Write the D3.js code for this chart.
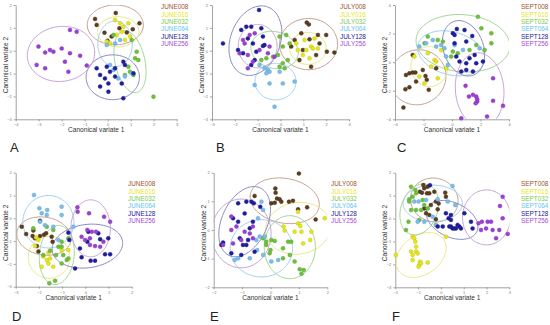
<!DOCTYPE html>
<html><head><meta charset="utf-8">
<script src="https://cdn.jsdelivr.net/npm/d3@7"></script>
<style>body{margin:0;background:#fff}svg{display:block}</style>
</head><body><svg id="c" width="550" height="325"></svg>
<script>
// ---------- DATA ----------
const groups = ["008","016","032","064","128","256"];
const months = ["JUNE","JULY","SEPT","JUNE","JULY","SEPT"];
const letters = ["A","B","C","D","E","F"];
const xTicks = [[-4,-3,-2,-1,0,1,2,3],[-3,-2,-1,0,1,2,3],[-4,-2,0,2,4],[-3,-2,-1,0,1,2],[-2,-1,0,1,2],[-2,-1,0,1,2,3]];
const yTicks = [[-3,-2,-1,0,1,2],[-3,-2,-1,0,1,2],[-4,-2,0,2,4],[-3,-2,-1,0,1,2],[-2,-1,0,1,2],[-3,-2,-1,0,1,2]];

// Panel A (June)
const A008 = [[0.35,1.65],[-0.55,1.39],[1.38,1.2],[-0.48,1.13],[-0.14,0.79],[0.83,0.8],[1.09,0.94],[-0.01,0.44],[0.51,0.98],[0.17,0.62]];
const A016 = [[0.32,1.34],[0.68,1.05],[0.9,1.2],[0.61,0.83],[0.1,0.32],[0.75,0.47],[0.39,0.69],[0.97,0.62],[-0.04,0.4],[0.54,1.2]];
const A032 = [[1.04,0.47],[1.26,-0.04],[1.19,-0.33],[1.33,-0.41],[0.9,-0.7],[0.97,-0.92],[1.12,-1.06],[0.75,-1.06],[1.99,-2.01],[0.25,0.69]];
const A064 = [[0.32,0.32],[0.54,0.47],[0.1,-0.62],[1.04,-0.99],[0.46,-1.21],[-0.04,0.25],[0.75,-1.13],[0.25,-0.84]];
const A128 = [[-0.48,-0.77],[-0.33,-1.06],[-0.04,-0.7],[0.1,-0.92],[-0.12,-1.21],[0.03,-1.43],[0.03,-1.79],[0.68,-0.48],[0.75,-0.62],[0.32,-1.13],[0.61,-1.43],[0.68,-2.08],[-0.33,-1.57],[0.32,-0.77],[1.12,-0.99]];
const A256 = [[-1.64,0.91],[-1.35,0.83],[-3.01,0.18],[-2.72,-0.08],[-2.51,0.03],[-2.0,0.1],[-2.36,-0.04],[-1.64,-0.11],[-1.2,-0.22],[-3.09,-0.62],[-2.72,-0.77],[-1.86,-0.48],[-0.91,-0.65],[-1.71,-0.92]];
// ellipses: [cx, cy, rx, ry, angleDeg] per group
const A_ell = [[0.33,1.13,1.22,0.87,0],[0.46,0.83,0.9,0.66,0],[0.97,-0.48,0.65,1.38,12],[0.32,0.3,0.75,1.0,0],[0.22,-1.16,1.16,0.98,0],[-2.03,-0.14,1.47,1.2,8]];

// Panel B (July)
const B008 = [[1.15,1.23],[1.24,1.15],[0.91,0.76],[1.64,0.69],[2.0,0.69],[0.62,0.47],[1.27,0.5],[1.71,0.32],[2.03,-0.04],[2.36,-0.08],[0.47,0.18],[0.98,0.03],[0.83,-0.41],[1.34,-0.7],[1.56,-0.19]];
const B016 = [[0.69,0.32],[1.05,0.47],[1.34,0.18],[1.42,0.1],[1.13,0.03],[0.76,0.03],[1.64,0.1],[1.49,0.54],[0.98,-0.19],[1.27,-0.33]];
const B032 = [[-0.04,0.62],[0.25,0.69],[0.4,0.32],[0.1,0.18],[-0.11,-0.19],[0.1,-0.55],[-0.04,-0.7],[0.18,-0.77],[-0.62,-0.33],[-0.84,-0.41],[-0.33,-0.26],[0.32,-0.41]];
const B064 = [[-0.7,-0.77],[-0.55,-0.84],[-0.48,-0.92],[-0.62,-0.99],[-0.92,-0.62],[-0.04,-0.92],[0.1,-1.43],[-0.26,-2.45],[0.62,-1.35],[-0.48,-1.43],[-1.13,-1.5]];
const B128 = [[-0.94,1.78],[-1.72,0.91],[-1.5,1.05],[-1.28,1.05],[-0.84,0.98],[-0.77,0.62],[-0.7,0.25],[-1.43,0.54],[-1.21,0.32],[-1.86,0.03],[-1.64,-0.11],[-1.06,-0.04],[-1.28,-0.62],[-1.13,-0.41],[-0.77,0.21],[-2.52,0.32]];
const B256 = [[-1.64,0.47],[-1.35,0.69],[-1.13,0.76],[-1.79,-0.11],[-1.43,-0.19],[-0.92,0.03],[-0.55,-0.11],[-0.26,-0.26],[-1.21,-0.48],[-1.43,-0.77],[-0.48,0.18],[-1.57,0.32]];
const B_ell = [[1.23,0.29,1.27,1.12,0],[1.2,0.1,0.8,0.7,0],[-0.26,0.03,1.05,0.8,-15],[-0.22,-1.35,0.9,0.8,0],[-1.1,0.44,1.09,1.57,-20],[-1.0,0.2,0.85,0.95,0]];

// Panel C (Sept)
const C008 = [[-2.76,0.5],[-2.99,-0.78],[-2.76,-0.73],[-2.57,-0.73],[-3.23,-0.9],[-2.05,-0.55],[-1.86,-0.97],[-1.77,-1.24],[-2.52,-1.36],[-2.99,-1.76],[-3.27,-1.9],[-1.63,-1.94],[-3.41,-3.18],[-1.11,-0.43]];
const C016 = [[-2.64,0.39],[-2.29,-1.01],[-1.7,0.62],[-1.46,-0.31],[-1.23,0.15],[-1.11,0.04],[-0.41,-0.43],[-0.76,0.85],[-1.93,-1.48],[-1.0,-1.13]];
const C032 = [[-1.7,1.79],[-1.93,1.32],[-1.0,1.55],[-0.64,1.44],[0.06,0.74],[-0.06,0.39],[0.41,0.62],[1.82,3.18],[2.06,2.37],[2.76,2.02],[2.76,1.32],[1.7,1.2],[1.23,0.85],[2.29,0.85]];
const C064 = [[-2.29,1.09],[-1.82,1.32],[-1.35,1.55],[-1.11,1.09],[-0.76,1.2],[-0.53,0.97],[-0.41,0.39],[0.18,1.2],[-0.29,-0.2],[0.77,0.85],[1.94,0.97]];
const C128 = [[0.34,2.32],[0.06,2.02],[0.18,1.9],[0.88,2.25],[1.42,1.83],[0.18,1.32],[1.0,1.44],[0.3,0.39],[0.53,0.04],[1.0,-0.08],[1.23,0.27],[1.7,-0.08],[1.0,-0.55],[0.65,-0.66],[1.47,-0.66],[2.17,0.04],[1.59,0.5]];
const C256 = [[0.95,-1.66],[1.19,-2.41],[1.47,-2.29],[1.7,-2.41],[1.77,-2.6],[1.77,-2.76],[1.66,-2.88],[2.88,-1.13],[2.88,-2.71],[3.58,-3.06],[2.46,-3.81],[0.65,-3.93]];
const C_ell = [[-2.4,-1.06,2.0,1.9,30],[-1.58,-0.31,1.3,1.4,0],[0.77,1.32,3.3,2.0,-5],[-0.06,0.62,2.4,1.5,-15],[0.81,0.97,1.4,2.0,20],[1.94,-1.94,1.7,2.6,5]];

// Panel D (June)
const D008 = [[-2.74,-0.37],[-2.55,-0.69],[-2.24,-0.54],[-2.27,-0.78],[-1.95,-0.11],[-1.95,-0.78],[-1.78,-0.72],[-1.69,-0.66],[-1.45,-0.81],[-1.41,-1.03],[-2.09,-1.22],[-2.02,-1.46],[-2.17,-0.88]];
const D016 = [[-2.12,-0.84],[-2.02,-0.95],[-2.17,-1.22],[-1.81,-1.68],[-1.66,-1.83],[-1.52,-1.76],[-1.59,-1.98],[-1.88,-2.12],[-1.38,-2.12],[-1.59,-1.51],[-0.73,-1.39],[-1.02,-1.39]];
const D032 = [[-2.24,-0.44],[-1.66,-0.37],[-1.38,-0.51],[-1.02,-1.03],[-1.16,-1.25],[-1.52,-1.42],[-1.81,-1.61],[-1.26,-1.61],[-0.95,-1.61],[-0.8,-1.83],[-1.02,-1.98],[-0.73,-1.76],[-1.55,-2.85],[-1.3,-2.74],[-1.02,-1.25],[-0.73,-0.88]];
const D064 = [[-2.21,1.02],[-1.98,0.44],[-1.64,0.36],[-1.88,0.22],[-1.66,0.14],[-1.02,0.51],[-1.02,0.14],[-1.74,-0.3],[-1.38,-0.37],[-0.51,-0.37],[-1.16,-0.95],[-1.95,-0.15]];
const D128 = [[-0.73,-0.63],[-0.69,-0.95],[-0.44,-2.2],[-0.16,-1.71],[0.23,-1.86],[0.42,-1.86],[0.64,-0.92],[0.56,-0.66],[0.99,-0.88],[1.07,-1.58],[0.85,-1.58],[0.09,-1.03],[-0.23,-1.32],[0.13,-0.59]];
const D256 = [[-0.34,0.48],[-0.33,0.29],[0.16,0.22],[0.81,0.07],[1.07,-0.15],[0.09,-0.51],[0.28,-0.59],[0.46,-0.59],[0.2,-0.88],[-0.01,-0.95],[0.2,-1.17],[0.42,-1.22],[0.64,-1.25],[0.78,-1.03],[-0.16,-0.81]];
const D_ell = [[-1.78,-0.78,1.18,0.83,-10],[-1.56,-1.71,0.9,0.92,0],[-1.23,-1.61,0.75,1.3,-5],[-1.59,-0.15,1.1,1.15,0],[0.09,-1.22,1.53,0.95,8],[0.23,-0.44,0.85,1.25,0]];

// Panel E (July)
const E008 = [[1.0,1.97],[0.17,1.45],[0.18,1.3],[-0.56,1.19],[0.03,0.93],[0.23,1.1],[0.32,1.07],[0.38,0.99],[0.65,0.99],[0.79,1.02],[0.97,0.72],[1.29,0.79],[1.59,0.37],[0.15,0.95]];
const E016 = [[0.97,0.64],[0.97,0.23],[1.05,0.14],[0.46,0.12],[0.5,-0.02],[0.85,-0.06],[1.09,-0.06],[1.44,-0.06],[1.4,-0.35],[1.91,0.41],[1.15,-0.47]];
const E032 = [[-0.26,-0.29],[0.03,-0.35],[0.15,-0.38],[-0.15,-0.52],[0.0,-0.7],[-0.03,-0.81],[0.44,-0.64],[0.62,-0.41],[0.73,-0.41],[0.44,-0.99],[0.68,-0.87],[0.85,-1.1],[1.03,-1.37],[1.17,-1.4],[1.09,-1.53],[-0.15,-0.41]];
const E064 = [[-0.32,0.99],[-0.26,0.7],[-0.44,0.41],[-0.47,-0.7],[-0.2,-0.23],[-0.5,-0.35],[-1.26,-1.05],[-1.14,-0.99],[-0.73,-0.99],[-0.26,-0.87],[0.27,-1.05],[0.03,-1.1],[-0.38,-0.23]];
const E128 = [[-1.14,0.93],[-0.85,0.99],[-0.67,0.99],[-0.59,0.93],[-0.36,0.81],[-0.91,0.58],[-1.32,0.41],[-1.14,0.29],[-0.62,0.29],[-0.73,0.06],[-1.08,-0.29],[-0.79,-0.35],[-0.97,-0.52],[-0.85,-0.52],[-1.03,-0.87],[-1.38,-0.81],[-0.56,-0.76],[-1.67,-0.44],[-1.73,-0.52]];
const E256 = [[-1.38,0.47],[-1.38,0.0],[-1.2,0.12],[-0.91,-0.06],[-0.73,-0.12],[-0.62,-0.29],[-1.03,-0.35],[-1.67,-0.52],[-1.32,-0.47],[-0.62,0.12]];
const E_ell = [[0.5,1.02,1.23,0.78,-10],[0.97,0.06,1.15,0.9,8],[0.68,-0.6,0.9,1.1,0],[-0.32,-0.64,1.1,1.0,0],[-0.91,0.29,0.8,1.3,-25],[-1.03,-0.12,1.05,1.2,0]];

// Panel F (Sept)
const F008 = [[-0.77,1.46],[-0.73,1.32],[-0.58,1.39],[-0.92,1.17],[-0.83,1.13],[-0.61,1.1],[-0.51,1.1],[-0.29,1.17],[0.19,1.13],[0.22,0.95],[-0.22,0.74],[-0.44,0.59],[-0.73,0.44],[-0.14,0.4],[-0.65,0.23],[-0.51,0.15],[-0.22,-0.03],[-0.1,0.66]];
const F016 = [[-1.24,-0.79],[-1.17,-0.86],[-1.12,-1.01],[-1.09,-1.23],[-1.31,-1.44],[-1.09,-1.44],[-1.24,-1.59],[-1.02,-1.52],[-1.98,-1.59],[-1.24,-1.81],[-0.92,-1.88],[-0.95,-2.03],[-0.98,-2.1],[-0.87,-1.95],[-0.58,-1.92],[0.22,-0.79],[-0.22,-0.28]];
const F032 = [[-1.31,1.39],[-1.12,1.24],[-1.09,1.1],[-1.24,0.95],[-1.39,0.84],[-1.39,0.74],[-1.31,0.37],[-1.09,0.37],[-0.87,0.37],[-0.8,0.81],[-0.73,0.59],[-0.58,0.44],[-1.53,-0.5],[-1.42,-0.14],[-0.95,-0.06]];
const F064 = [[0.51,1.42],[-1.17,0.74],[-0.98,0.74],[-0.65,0.81],[-0.14,0.84],[0.3,0.74],[0.63,0.59],[-0.73,-0.14],[-0.22,-0.28],[-1.02,-0.14],[-0.36,0.08]];
const F128 = [[-0.48,1.45],[0.22,0.23],[0.44,0.15],[0.34,0.01],[0.44,-0.06],[0.51,-0.43],[0.08,-0.35],[0.37,-0.35],[0.59,-0.43],[0.66,-0.43],[0.81,-0.35],[0.88,-0.43],[1.03,0.23],[1.32,-0.14],[1.39,-0.43],[-0.14,-0.35],[0.44,-0.35],[0.73,-0.28]];
const F256 = [[2.71,0.95],[1.65,-0.21],[1.8,-0.14],[1.98,-0.43],[2.05,-0.14],[2.2,-0.14],[2.27,-0.5],[2.56,-0.5],[1.76,-0.5],[2.42,-0.86],[2.93,-0.67],[2.71,0.01],[2.59,0.55]];
const F_ell = [[-0.29,0.81,1.05,0.95,-15],[-0.87,-1.59,1.2,0.85,35],[-0.95,0.4,0.8,1.15,-20],[-0.36,0.66,1.3,0.8,0],[0.49,-0.06,1.2,0.75,-25],[2.0,0.05,1.05,1.2,0]];

const panelPoints = [[A008,A016,A032,A064,A128,A256],[B008,B016,B032,B064,B128,B256],[C008,C016,C032,C064,C128,C256],
  [D008,D016,D032,D064,D128,D256],[E008,E016,E032,E064,E128,E256],[F008,F016,F032,F064,F128,F256]];
const panelEllipses = [A_ell,B_ell,C_ell,D_ell,E_ell,F_ell];

// ---------- STYLE / LAYOUT ----------
const ptColor = ["#5c3d1e","#e6e61a","#6cc23a","#78bdf0","#1f1f9e","#9b3fd6"];
const txtColor = ["#a0522d","#e8e61c","#7acc4a","#66c4f0","#1a1a99","#a64dd9"];
const ellColor = ["#c4a08c","#e8e884","#a2d494","#a2cfee","#8888c2","#c6a2d6"];
const boxes = [
  {x0:15.7,x1:176.7,y0:5,y1:119.3,lx:161,ly:7,Lx:10,Ly:152},
  {x0:212,x1:349,y0:5,y1:119.3,lx:340,ly:7,Lx:216,Ly:152},
  {x0:395,x1:509,y0:5,y1:119.3,lx:521,ly:7,Lx:397,Ly:152},
  {x0:15.7,x1:131.7,y0:172.7,y1:286.7,lx:128,ly:184,Lx:12,Ly:321},
  {x0:213.7,x1:327.3,y0:172.7,y1:287.3,lx:331,ly:184,Lx:210,Ly:321},
  {x0:395.3,x1:509.3,y0:172.7,y1:287.3,lx:521,ly:184,Lx:392,Ly:321}
];

const svg = d3.select("#c");
const font = "'Liberation Sans', Arial, sans-serif";

boxes.forEach((b, p) => {
  const xt = xTicks[p], yt = yTicks[p];
  const x = d3.scaleLinear().domain([xt[0], xt[xt.length-1]]).range([b.x0, b.x1]);
  const y = d3.scaleLinear().domain([yt[0], yt[yt.length-1]]).range([b.y1, b.y0]);
  const g = svg.append("g");

  const clipId = "clip" + p;
  svg.append("clipPath").attr("id", clipId).append("rect")
    .attr("x", b.x0).attr("y", b.y0).attr("width", b.x1 - b.x0).attr("height", b.y1 - b.y0);

  // axes
  const ax = g.append("g").attr("transform", `translate(0,${b.y1})`)
    .call(d3.axisBottom(x).tickValues(xt).tickSize(2).tickSizeOuter(0).tickPadding(2).tickFormat(d3.format("d")));
  const ay = g.append("g").attr("transform", `translate(${b.x0},0)`)
    .call(d3.axisLeft(y).tickValues(yt).tickSize(2).tickSizeOuter(0).tickPadding(2).tickFormat(d3.format("d")));
  [ax, ay].forEach(a => {
    a.selectAll("path,line").attr("stroke", "#8a8a8a").attr("stroke-width", 0.8);
    a.selectAll("text").attr("font-size", 4).attr("fill", "#777").attr("font-family", font);
  });

  // axis titles
  g.append("text").attr("x", (b.x0 + b.x1) / 2).attr("y", b.y1 + 13)
    .attr("text-anchor", "middle").attr("font-size", 6.6).attr("font-family", font).attr("fill", "#333")
    .text("Canonical variate 1");
  g.append("text").attr("transform", `translate(${b.x0 - 8},${(b.y0 + b.y1) / 2 + 3}) rotate(-90)`)
    .attr("text-anchor", "middle").attr("font-size", 6.6).attr("font-family", font).attr("fill", "#333")
    .text("Canonical variate 2");

  // ellipses
  const line = d3.line().x(d => x(d[0])).y(d => y(d[1])).curve(d3.curveLinearClosed);
  const eg = g.append("g").attr("clip-path", `url(#${clipId})`);
  panelEllipses[p].forEach((e, i) => {
    const [cx, cy, rx, ry, ang] = e;
    const a = ang * Math.PI / 180;
    const pts = d3.range(0, 2 * Math.PI, Math.PI / 60).map(t => [
      cx + rx * Math.cos(t) * Math.cos(a) - ry * Math.sin(t) * Math.sin(a),
      cy + rx * Math.cos(t) * Math.sin(a) + ry * Math.sin(t) * Math.cos(a)
    ]);
    eg.append("path").attr("d", line(pts)).attr("fill", "none")
      .attr("stroke", ellColor[i]).attr("stroke-width", 1);
  });

  // points
  panelPoints[p].forEach((arr, i) => {
    g.append("g").selectAll("circle").data(arr).join("circle")
      .attr("cx", d => x(d[0])).attr("cy", d => y(d[1])).attr("r", 2)
      .attr("fill", ptColor[i]).attr("stroke", d3.color(ptColor[i]).darker(0.6)).attr("stroke-width", 0.4);
  });

  // legend
  groups.forEach((gr, i) => {
    g.append("text").attr("x", b.lx).attr("y", b.ly + i * 7.3 + 2.3)
      .attr("font-size", 6.4).attr("font-family", font).attr("fill", txtColor[i])
      .text(months[p] + gr);
  });

  // panel letter
  g.append("text").attr("x", b.Lx).attr("y", b.Ly).attr("font-size", 13)
    .attr("font-family", font).attr("fill", "#222").text(letters[p]);
});
</script></body></html>
